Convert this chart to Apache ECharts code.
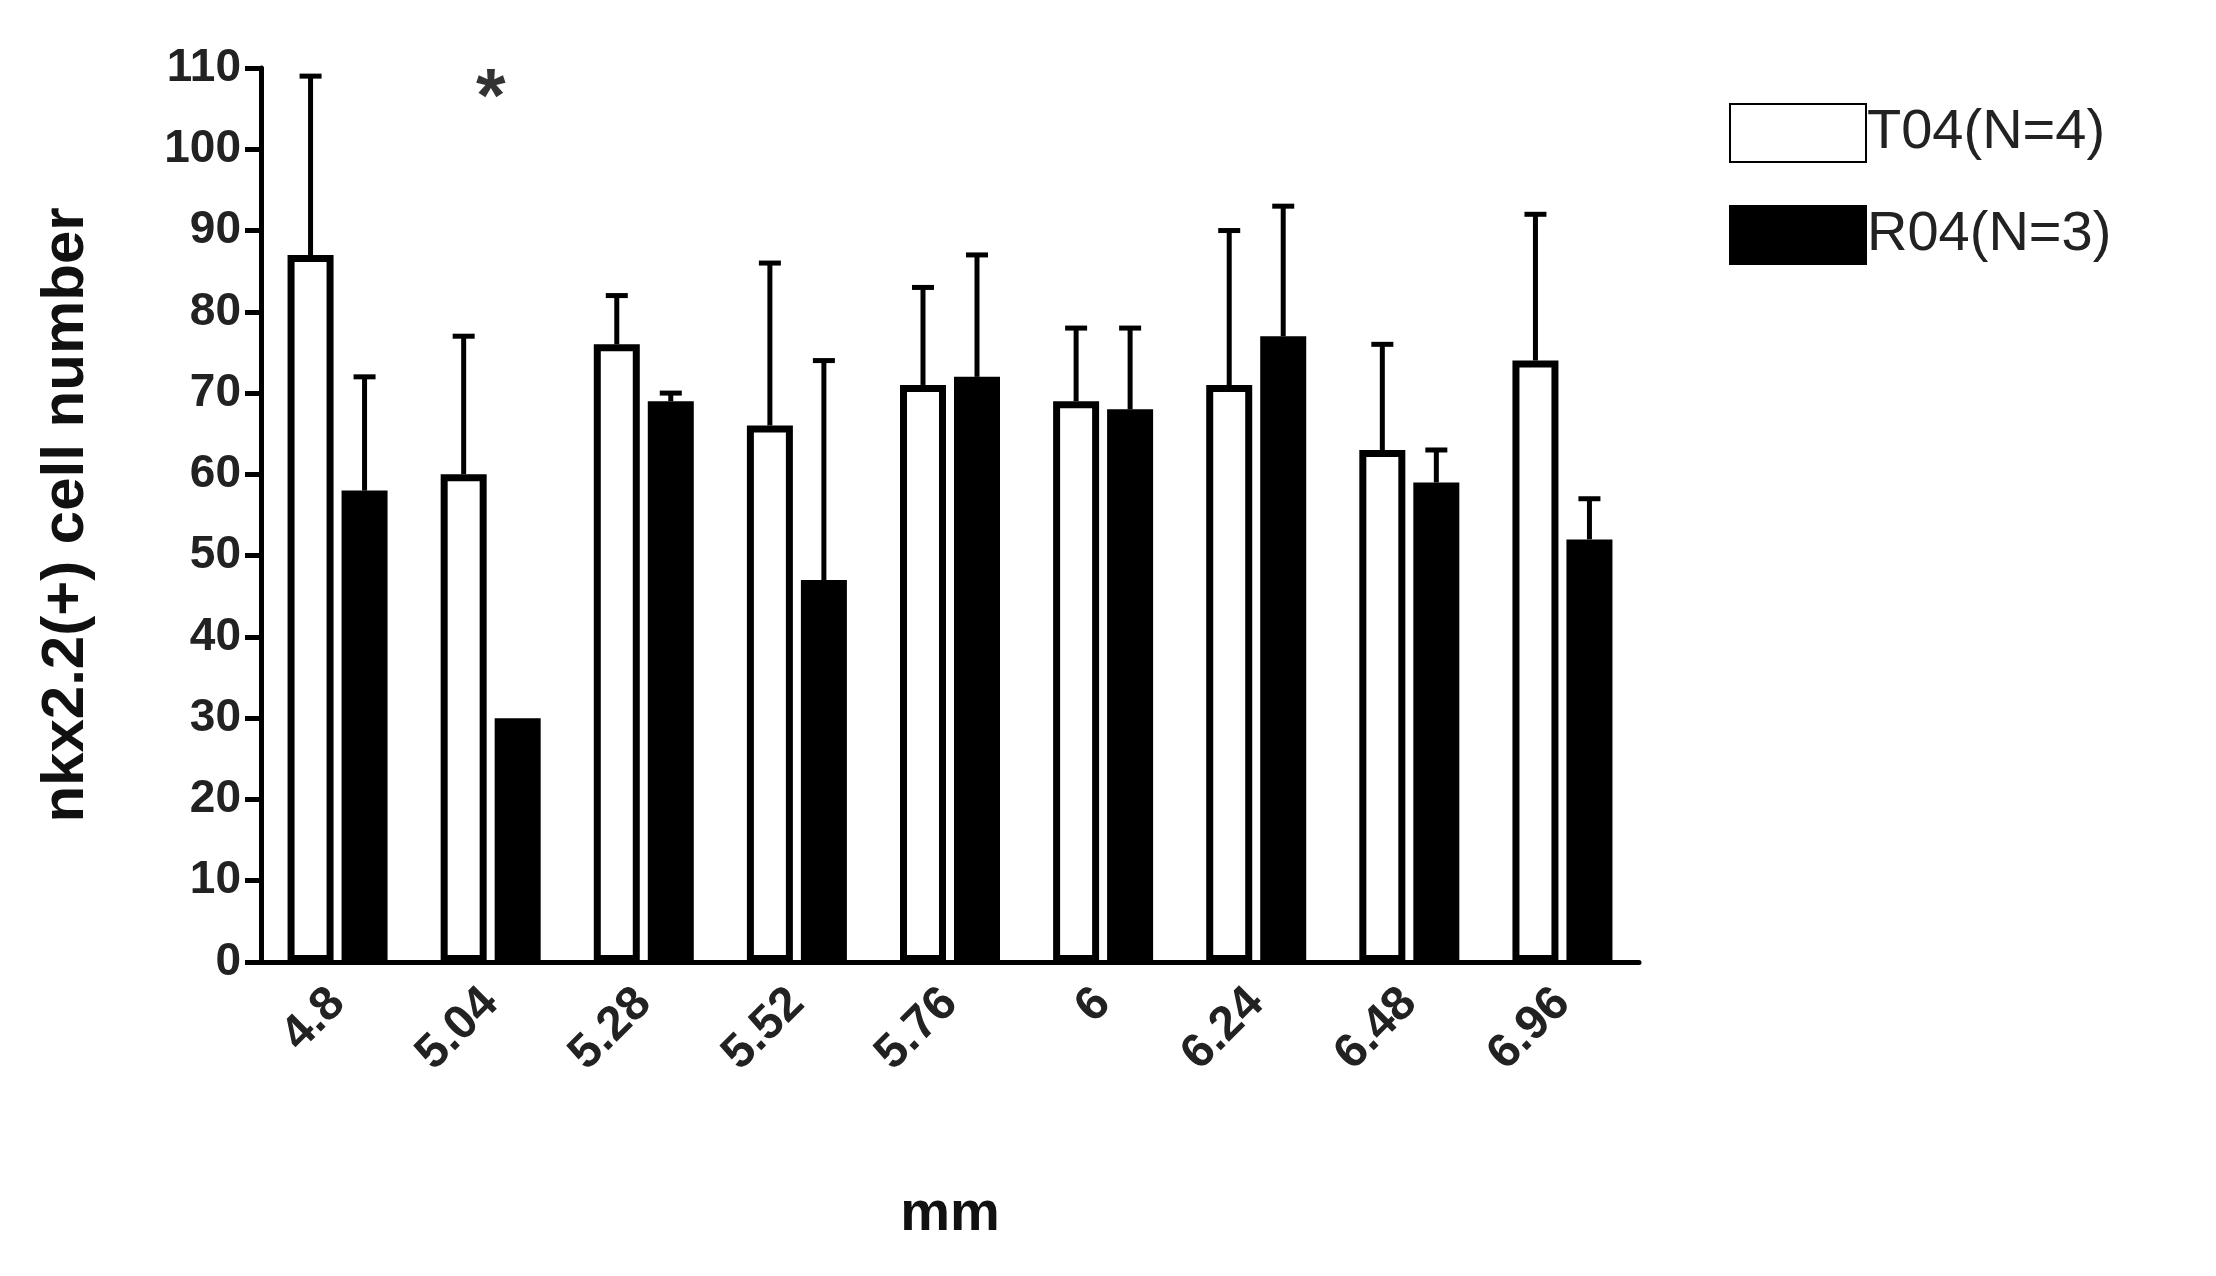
<!doctype html>
<html>
<head>
<meta charset="utf-8">
<script src="https://cdn.jsdelivr.net/npm/echarts@6/dist/echarts.min.js"></script>
<style>html,body{margin:0;background:#fff}#main{width:2216px;height:1276px}</style>
</head>
<body>
<div id="main"></div>
<script>
var categories = ['4.8', '5.04', '5.28', '5.52', '5.76', '6', '6.24', '6.48', '6.96'];
var t04 = [87, 60, 76, 66, 71, 69, 71, 63, 74];
var t04Top = [109, 77, 82, 86, 83, 78, 90, 76, 92];
var r04 = [58, 30, 69, 47, 72, 68, 77, 59, 52];
var r04Top = [72, null, 70, 74, 87, 78, 93, 63, 57];

var barW = 46, gap = 8;
var off = barW / 2 + gap / 2;

function errSeries(vals, tops, dx) {
    return {
        type: 'custom',
        z: 1,
        data: vals.map(function (v, i) { return [i, v, tops[i]]; }),
        renderItem: function (params, api) {
            if (api.value(2) == null || isNaN(api.value(2))) return;
            var a = api.coord([api.value(0), api.value(1)]);
            var b = api.coord([api.value(0), api.value(2)]);
            var x = a[0] + dx;
            var st = { stroke: '#000', lineWidth: 5 };
            return { type: 'group', children: [
                { type: 'line', shape: { x1: x, y1: a[1], x2: x, y2: b[1] }, style: st },
                { type: 'line', shape: { x1: x - 11, y1: b[1], x2: x + 11, y2: b[1] }, style: st }
            ]};
        }
    };
}

var chart = echarts.init(document.getElementById('main'));
chart.setOption({
    backgroundColor: '#fff',
    animation: false,
    textStyle: { fontFamily: 'Liberation Sans, Arial', color: '#000' },
    grid: { left: 261, right: 577, top: 68, bottom: 314 },
    legend: {
        left: 1724, top: 98, orient: 'vertical', itemGap: 42,
        itemWidth: 136, itemHeight: 58, icon: 'rect',
        textStyle: { fontSize: 56, color: '#222', padding: [0, 0, 0, -4], fontFamily: 'Liberation Sans, Arial' },
        data: ['T04(N=4)', 'R04(N=3)']
    },
    xAxis: {
        type: 'category', data: categories,
        name: 'mm', nameLocation: 'middle', nameGap: 225,
        nameTextStyle: { fontSize: 56, fontWeight: 'bold', color: '#111' },
        axisLine: { lineStyle: { color: '#000', width: 5 } },
        axisTick: { alignWithLabel: true, length: 26, lineStyle: { width: 5, color: '#000' } },
        axisLabel: { rotate: 45, fontSize: 48, fontWeight: 'bold', color: '#222', margin: 34 }
    },
    yAxis: {
        type: 'value', min: 0, max: 110, interval: 10,
        name: 'nkx2.2(+) cell number', nameLocation: 'middle', nameGap: 165,
        nameTextStyle: { fontSize: 60, fontWeight: 'bold', color: '#111' },
        axisLine: { show: true, lineStyle: { color: '#000', width: 5 } },
        axisTick: { show: true, length: 16, lineStyle: { width: 5, color: '#000' } },
        axisLabel: { fontSize: 46, fontWeight: 'bold', color: '#222', margin: 20 },
        splitLine: { show: false }
    },
    series: [
        { name: 'T04(N=4)', type: 'bar', data: t04, barWidth: barW, barGap: (gap / barW * 100) + '%', z: 2,
          itemStyle: { color: '#fff', borderColor: '#000', borderWidth: 7 } },
        { name: 'R04(N=3)', type: 'bar', data: r04, barWidth: barW, z: 2,
          itemStyle: { color: '#000', borderColor: '#000', borderWidth: 4 } },
        errSeries(t04, t04Top, -off),
        errSeries(r04, r04Top, off),
        { type: 'scatter', data: [[1, 106]], symbolSize: 0,
          label: { show: true, formatter: '*', fontSize: 76, fontWeight: 'bold', color: '#000' } }
    ]
});
</script>
</body>
</html>
